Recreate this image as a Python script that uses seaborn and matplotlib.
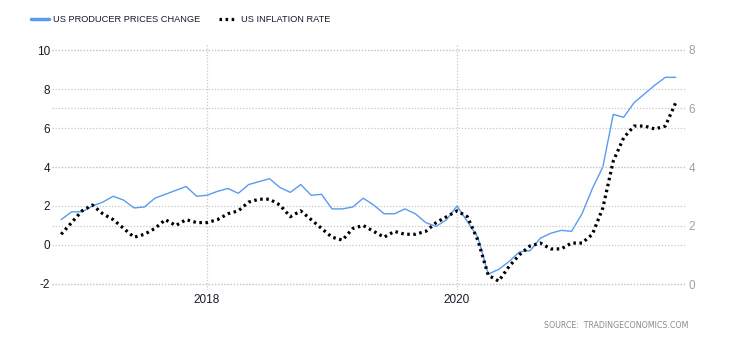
import numpy as np
import pandas as pd
import matplotlib
matplotlib.use("Agg")
import matplotlib.pyplot as plt
import seaborn as sns
from matplotlib.lines import Line2D

# ---- data (monthly, Nov 2016 .. Oct 2021) ----
start_year = 2016
start_month = 11
ppi_change = [1.3, 1.7,
              1.7, 2.0, 2.2, 2.5, 2.3, 1.9, 1.95, 2.4, 2.6, 2.8, 3.0, 2.5,
              2.55, 2.75, 2.9, 2.65, 3.1, 3.25, 3.4, 2.95, 2.7, 3.1, 2.55, 2.6,
              1.85, 1.85, 1.95, 2.4, 2.05, 1.6, 1.6, 1.85, 1.6, 1.15, 0.95, 1.3,
              2.0, 1.2, 0.4, -1.5, -1.25, -0.85, -0.35, -0.3, 0.35, 0.6, 0.75, 0.7,
              1.6, 2.9, 4.0, 6.7, 6.55, 7.3, 7.75, 8.2, 8.6, 8.6]
inflation_rate = [1.7, 2.1,
                  2.5, 2.7, 2.4, 2.2, 1.9, 1.6, 1.7, 1.9, 2.2, 2.0, 2.2, 2.1,
                  2.1, 2.2, 2.4, 2.5, 2.8, 2.9, 2.9, 2.7, 2.3, 2.5, 2.2, 1.9,
                  1.6, 1.5, 1.9, 2.0, 1.8, 1.6, 1.8, 1.7, 1.7, 1.8, 2.1, 2.3,
                  2.5, 2.3, 1.5, 0.3, 0.1, 0.6, 1.0, 1.3, 1.4, 1.2, 1.2, 1.4,
                  1.4, 1.7, 2.6, 4.2, 5.0, 5.4, 5.4, 5.3, 5.4, 6.2]
left_ticks = [-2, 0, 2, 4, 6, 8, 10]
right_ticks = [0, 2, 4, 6, 8]
x_ticks = [2018, 2020]
x_ticklabels = ["2018", "2020"]
legend_labels = ["US PRODUCER PRICES CHANGE", "US INFLATION RATE"]
source_text = "SOURCE:  TRADINGECONOMICS.COM"

n = len(ppi_change)
months = np.arange(n) + (start_month - 1)
xpos = start_year + months / 12.0
df = pd.DataFrame({"t": xpos, "ppi": ppi_change, "cpi": inflation_rate})

sns.set_theme(style="white")
plt.rcParams["font.family"] = ["Liberation Sans", "DejaVu Sans"]
plt.rcParams["axes.unicode_minus"] = False

fig = plt.figure(figsize=(7.3, 3.4), dpi=100)
ax = fig.add_axes([52 / 730, 1 - 290 / 340, (685 - 52) / 730, (290 - 44) / 340])
ax2 = ax.twinx()

blue = "#5a9bf0"
grid_kw = dict(color="#c8c8c8", linestyle=(0, (1, 1.5)), linewidth=0.9)

sns.lineplot(data=df, x="t", y="ppi", ax=ax, color=blue, linewidth=1.0)
sns.lineplot(data=df, x="t", y="cpi", ax=ax2, color="black", linewidth=2.3,
             linestyle=(0, (0.8, 1.1)))

ax.set_xlim(2016.76, 2021.824)
ax.set_ylim(-2.31, 10.31)
ax2.set_ylim(-0.205, 8.205)
ax.set_yticks(left_ticks)
ax2.set_yticks(right_ticks)
ax.set_xticks(x_ticks)
ax.set_xticklabels(x_ticklabels)

ax.grid(True, **grid_kw)
ax2.grid(True, axis="y", **grid_kw)
ax2.grid(False, axis="x")
ax.set_axisbelow(True)

for a in (ax, ax2):
    for s in a.spines.values():
        s.set_visible(False)
    a.set_xlabel("")
    a.set_ylabel("")

ax.tick_params(axis="y", length=0, pad=1.5, labelsize=8.5, labelcolor="#1a1a2a")
ax.tick_params(axis="x", length=0, pad=3, labelsize=8.5, labelcolor="#1a1a2a")
ax2.tick_params(axis="y", length=0, pad=2.5, labelsize=8.5, labelcolor="#a0a0a8")

handles = [Line2D([], [], color=blue, linewidth=2.5),
           Line2D([], [], color="black", linewidth=2.3, linestyle=(0, (0.8, 1.1)))]
fig.legend(handles, legend_labels, loc="center left", bbox_to_anchor=(31 / 730, 1 - 20 / 340),
           ncol=2, frameon=False, fontsize=6.7, handlelength=1.9, handletextpad=0.45,
           columnspacing=2.0, borderpad=0, borderaxespad=0, labelcolor="#1a1a2a")

fig.text(688 / 730, 1 - 325 / 340, source_text, ha="right", va="center",
         fontsize=5.7, color="#8a8a8a", family=["DejaVu Sans"])

fig.savefig("out.png", dpi=100)
